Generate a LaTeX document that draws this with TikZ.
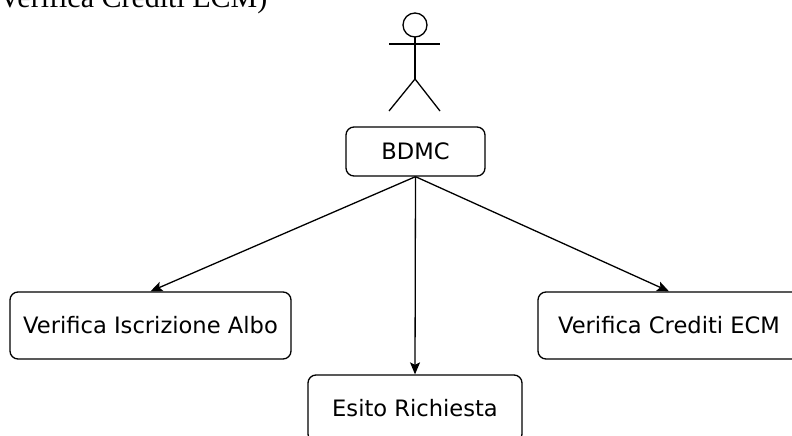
\documentclass[tikz,border=0pt]{standalone}
\usepackage{fontspec}
\setmainfont{DejaVu Sans}
\newfontfamily\titlefont{Liberation Serif}
\usetikzlibrary{arrows.meta}

\begin{document}
\begin{tikzpicture}
      [x=1pt,y=-1pt,line width=1.3pt,
       every node/.style={draw,rounded corners=8pt,inner sep=0pt,
         text height=16.5pt,text depth=0pt,
         font=\fontsize{22.6}{27}\selectfont}]
      \useasboundingbox (0,0) rectangle (792,436);
      \clip (0,0) rectangle (792,436);

      % cut-off line of text above the diagram
      \node [draw=none,anchor=base east,text height=,text depth=,
        font=\titlefont\fontsize{30}{36}\selectfont] (titolo) at (268,8) {Verifica Crediti ECM)};

      % actor
      \coordinate (actor) at (415,25);
      \draw (actor) circle (12);
      \draw (415,37) -- (415,79);
      \draw (389,44) -- (440,44);
      \draw (389,111) -- (415,79) -- (440,111);

      \node [minimum width=139pt,minimum height=49pt] (bdmc) at (415.5,151.5) {BDMC};
      \node [minimum width=281pt,minimum height=67pt] (albo) at (150.5,325.5) {Verifica Iscrizione Albo};
      \node [minimum width=262pt,minimum height=67pt] (ecm) at (669,325.5) {Verifica Crediti ECM};
      \node [minimum width=214pt,minimum height=67pt] (esito) at (415,408.5) {Esito Richiesta};

      \foreach \to in {albo, esito, ecm}
      \draw [-{Stealth[length=12pt,width=10pt,inset=2.5pt]}] (bdmc.south) -- (\to.north);
    \end{tikzpicture}
\end{document}
